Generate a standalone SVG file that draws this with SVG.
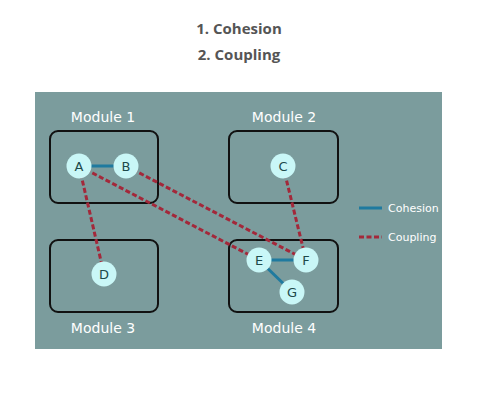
<svg xmlns="http://www.w3.org/2000/svg" width="492" height="396" viewBox="0 0 492 396">
<defs>
<style>
.title{font-family:"Open Sans","Liberation Sans",sans-serif;font-weight:bold;font-size:15px;fill:#555;text-anchor:middle}
.mod{fill:none;stroke:#111;stroke-width:2}
.mlabel{font-family:"DejaVu Sans",sans-serif;font-size:14px;fill:#fff;text-anchor:middle}
.node circle{fill:#c9f7f7}
.node text{font-family:"DejaVu Sans",sans-serif;font-size:13px;fill:#1d4a4a;text-anchor:middle;dominant-baseline:central}
.coh{stroke:#1f7a9f;stroke-width:3;fill:none}
.cpl{stroke:#a3283a;stroke-width:3;stroke-dasharray:5 2.5;fill:none}
.leg{font-family:"DejaVu Sans",sans-serif;font-size:11px;fill:#fff}
</style>
</defs>
<rect width="492" height="396" fill="#fff"/>
<text class="title" x="239" y="34">1. Cohesion</text>
<text class="title" x="239" y="60">2. Coupling</text>
<rect x="35" y="92" width="407" height="257" fill="#7b9c9d"/>
<g id="module1"><rect class="mod" x="50" y="131" width="108" height="72" rx="8"/><text class="mlabel" x="103" y="122">Module 1</text></g>
<g id="module2"><rect class="mod" x="229" y="131" width="109" height="72" rx="8"/><text class="mlabel" x="284" y="122">Module 2</text></g>
<g id="module3"><rect class="mod" x="50" y="240" width="108" height="72" rx="8"/><text class="mlabel" x="103" y="333">Module 3</text></g>
<g id="module4"><rect class="mod" x="229" y="240" width="109" height="72" rx="8"/><text class="mlabel" x="284" y="333">Module 4</text></g>
<g id="connectors">
<line class="coh" x1="79" y1="166" x2="126" y2="166"/>
<line class="coh" x1="259" y1="260" x2="306" y2="260"/>
<line class="coh" x1="259" y1="260" x2="292" y2="292"/>
<line class="cpl" x1="79" y1="166" x2="104" y2="274"/>
<line class="cpl" x1="79" y1="166" x2="259" y2="260"/>
<line class="cpl" x1="126" y1="166" x2="306" y2="260"/>
<line class="cpl" x1="283" y1="166" x2="306" y2="260"/>
</g>
<g id="A" class="node"><circle cx="79" cy="166" r="12.5"/><text x="79" y="166">A</text></g>
<g id="B" class="node"><circle cx="126" cy="166" r="12.5"/><text x="126" y="166">B</text></g>
<g id="C" class="node"><circle cx="283" cy="166" r="12.5"/><text x="283" y="166">C</text></g>
<g id="D" class="node"><circle cx="104" cy="274" r="12.5"/><text x="104" y="274">D</text></g>
<g id="E" class="node"><circle cx="259" cy="260" r="12.5"/><text x="259" y="260">E</text></g>
<g id="F" class="node"><circle cx="306" cy="260" r="12.5"/><text x="306" y="260">F</text></g>
<g id="G" class="node"><circle cx="292" cy="292" r="12.5"/><text x="292" y="292">G</text></g>
<g id="legend">
<line class="coh" x1="359" y1="208" x2="382" y2="208"/>
<text class="leg" x="388" y="212">Cohesion</text>
<line class="cpl" x1="359" y1="237" x2="382" y2="237"/>
<text class="leg" x="388" y="241">Coupling</text>
</g>
</svg>
